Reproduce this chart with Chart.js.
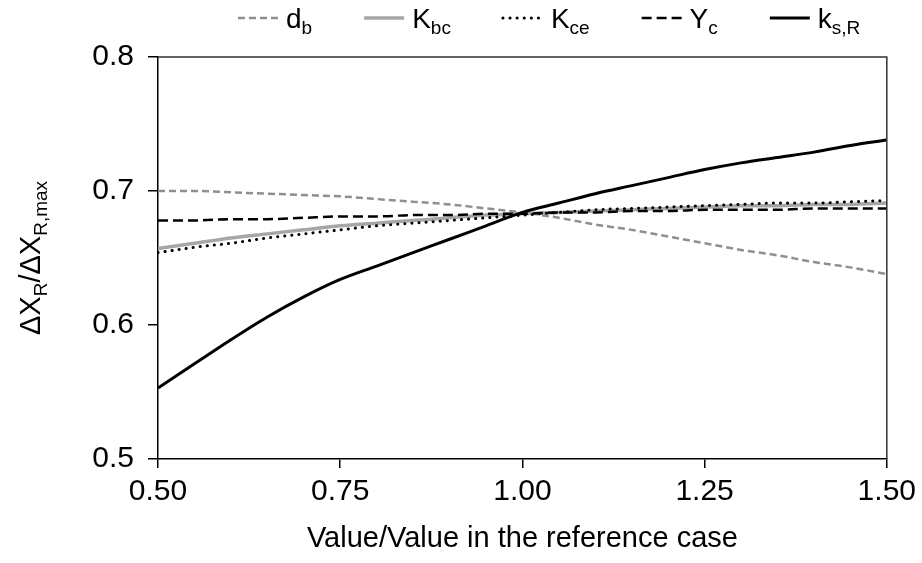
<!DOCTYPE html>
<html>
<head>
<meta charset="utf-8">
<script src="https://cdn.jsdelivr.net/npm/chart.js@4"></script>
<style>
html,body{margin:0;padding:0;background:#fff;}
#wrap{width:922px;height:563px;}
</style>
</head>
<body>
<div id="wrap"><canvas id="c" width="922" height="563"></canvas></div>
<script>
// ---- data ----
const xValues = [0.50,0.55,0.60,0.65,0.70,0.75,0.80,0.85,0.90,0.95,1.00,1.05,1.10,1.15,1.20,1.25,1.30,1.35,1.40,1.45,1.50];
const dB   = [0.700,0.700,0.699,0.698,0.697,0.696,0.694,0.692,0.690,0.687,0.684,0.680,0.675,0.671,0.666,0.661,0.656,0.652,0.647,0.643,0.638];
const kBc  = [0.657,0.661,0.665,0.668,0.671,0.674,0.676,0.678,0.680,0.682,0.683,0.684,0.685,0.686,0.687,0.688,0.689,0.689,0.690,0.690,0.691];
const kCe  = [0.654,0.658,0.661,0.665,0.668,0.671,0.674,0.676,0.678,0.680,0.682,0.684,0.686,0.687,0.688,0.689,0.690,0.691,0.691,0.692,0.693];
const yC   = [0.678,0.678,0.679,0.679,0.680,0.681,0.681,0.682,0.682,0.683,0.683,0.684,0.684,0.685,0.685,0.686,0.686,0.686,0.687,0.687,0.687];
const kSR  = [0.553,0.571,0.589,0.606,0.621,0.634,0.644,0.654,0.664,0.674,0.684,0.691,0.698,0.704,0.710,0.716,0.721,0.725,0.729,0.734,0.738];

const seriesBase = ['d','K','K','Y','k'];
const seriesSub  = ['b','bc','ce','c','s,R'];

const xTicks = [0.50,0.75,1.00,1.25,1.50];
const xTickLabels = ['0.50','0.75','1.00','1.25','1.50'];
const yTicks = [0.5,0.6,0.7,0.8];
const yTickLabels = ['0.5','0.6','0.7','0.8'];

const xTitle = 'Value/Value in the reference case';
const yTitleParts = [['ΔX',false],['R',true],['/ΔX',false],['R,max',true]];

// ---- styling ----
const FONT = '"Liberation Sans", Arial, sans-serif';
const styles = [
  {color:'#8f8f8f', width:2.5, dash:[7,4],  cap:'butt'},
  {color:'#a6a6a6', width:3.5, dash:[],     cap:'butt'},
  {color:'#000000', width:3,   dash:[0.1,7],cap:'round'},
  {color:'#000000', width:2.5, dash:[10,5], cap:'butt'},
  {color:'#000000', width:3,   dash:[],     cap:'butt'}
];
const allSeries = [dB,kBc,kCe,yC,kSR];

const datasets = allSeries.map((s,i)=>({
  label: seriesBase[i]+'_'+seriesSub[i],
  data: xValues.map((x,j)=>({x:x,y:s[j]})),
  borderColor: styles[i].color,
  borderWidth: styles[i].width,
  borderDash: styles[i].dash,
  borderCapStyle: styles[i].cap,
  pointRadius: 0,
  fill: false,
  cubicInterpolationMode: 'monotone',
  order: [4,3,1,2,0][i]
}));

function drawSubText(ctx, parts, x, y, size, subSize, subShift){
  let cx = x;
  for (const [t,sub] of parts){
    ctx.font = (sub?subSize:size)+'px '+FONT;
    ctx.fillText(t, cx, y + (sub?subShift:0));
    cx += ctx.measureText(t).width;
  }
  return cx - x;
}
function measureSub(ctx, parts, size, subSize){
  let w=0;
  for (const [t,sub] of parts){ ctx.font=(sub?subSize:size)+'px '+FONT; w+=ctx.measureText(t).width; }
  return w;
}

const decor = {
  id:'decor',
  afterDraw(chart){
    const ctx = chart.ctx, a = chart.chartArea;
    ctx.save();
    ctx.strokeStyle = '#333';
    ctx.lineWidth = 1.5;
    ctx.beginPath();
    ctx.moveTo(a.left, a.top); ctx.lineTo(a.right, a.top); ctx.lineTo(a.right, a.bottom);
    ctx.stroke();
    ctx.fillStyle = '#000';
    ctx.textBaseline = 'alphabetic';
    // legend
    const size = 28, sub = 19, shift = 6, sampleLen = 40, gapSample = 8, gapItem = 52;
    const items = seriesBase.map((b,i)=>[[b,false],[seriesSub[i],true]]);
    const widths = items.map(p=>sampleLen+gapSample+measureSub(ctx,p,size,sub));
    let x = 238;
    const ly = 18;
    items.forEach((p,i)=>{
      const st = styles[i];
      ctx.strokeStyle = st.color; ctx.lineWidth = st.width; ctx.setLineDash(st.dash); ctx.lineCap = st.cap;
      ctx.beginPath(); ctx.moveTo(x, ly); ctx.lineTo(x+sampleLen, ly); ctx.stroke();
      ctx.setLineDash([]); ctx.lineCap='butt';
      ctx.fillStyle = '#000';
      drawSubText(ctx, p, x+sampleLen+gapSample, ly+10, size, sub, shift);
      x += widths[i] + gapItem;
    });
    // x title
    ctx.font = '29px '+FONT;
    ctx.textAlign = 'center';
    ctx.fillText(xTitle, (a.left+a.right)/2, 547);
    // y title
    ctx.textAlign = 'left';
    const w = measureSub(ctx, yTitleParts, 29, 19);
    ctx.translate(40, (a.top+a.bottom)/2);
    ctx.rotate(-Math.PI/2);
    drawSubText(ctx, yTitleParts, -w/2, 0, 29, 19, 7);
    ctx.restore();
  }
};

new Chart(document.getElementById('c'), {
  type:'line',
  data:{datasets},
  options:{
    responsive:false,
    devicePixelRatio:1,
    animation:false,
    layout:{padding:{top:57,right:35,left:0,bottom:0}},
    plugins:{legend:{display:false},tooltip:{enabled:false}},
    scales:{
      x:{
        type:'linear', min:0.5, max:1.5,
        afterBuildTicks(s){ s.ticks = xTicks.map(v=>({value:v})); },
        afterFit(s){ s.height = 104; },
        ticks:{ callback:(v,i)=>xTickLabels[i], font:{family:FONT,size:30}, color:'#000', padding:6, maxRotation:0, autoSkip:false },
        grid:{ drawOnChartArea:false, tickLength:9, color:'#000', lineWidth:1.5 },
        border:{ display:true, color:'#000', width:1.5 }
      },
      y:{
        type:'linear', min:0.5, max:0.8,
        afterBuildTicks(s){ s.ticks = yTicks.map(v=>({value:v})); },
        afterFit(s){ s.width = 158; },
        ticks:{ callback:(v,i)=>yTickLabels[i], font:{family:FONT,size:30}, color:'#000', padding:14 },
        grid:{ drawOnChartArea:false, tickLength:10, color:'#000', lineWidth:1.5 },
        border:{ display:true, color:'#000', width:1.5 }
      }
    }
  },
  plugins:[decor]
});
</script>
</body>
</html>
